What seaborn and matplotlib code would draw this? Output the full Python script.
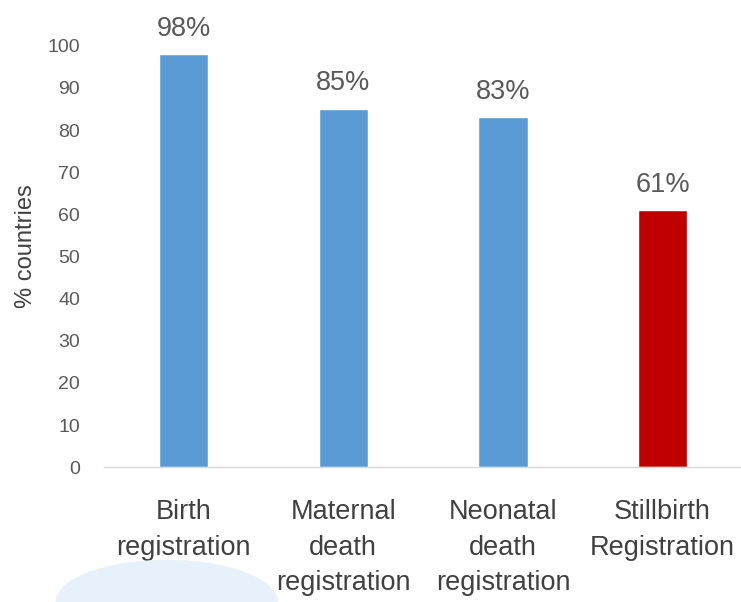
import matplotlib
matplotlib.use("Agg")
import matplotlib.pyplot as plt
from matplotlib.patches import Ellipse
import seaborn as sns
import pandas as pd

# Share of countries with each registration system in place
categories = ["Birth\nregistration", "Maternal\ndeath\nregistration",
              "Neonatal\ndeath\nregistration", "Stillbirth\nRegistration"]
percent_countries = [98, 85, 83, 61]
bar_colors = ["#5B9BD5", "#5B9BD5", "#5B9BD5", "#C00000"]
y_ticks = list(range(0, 101, 10))

df = pd.DataFrame({"category": categories, "pct": percent_countries})

sns.set_theme(style="white")
plt.rcParams["font.family"] = ["Liberation Sans", "DejaVu Sans"]

fig = plt.figure(figsize=(7.41, 6.02), dpi=100)
ax = fig.add_axes([0.140, 0.224, 0.862, 0.700])

# faint light-blue shape along the lower-left edge
fig.patches.append(Ellipse((0.225, 0.0), 0.30, 0.14, transform=fig.transFigure,
                           facecolor="#e6f1fb", edgecolor="none", zorder=0))

sns.barplot(data=df, x="category", y="pct", hue="category",
            palette=bar_colors, legend=False, width=0.31,
            saturation=1, ax=ax)

for patch, val in zip(ax.patches, percent_countries):
    ax.annotate(f"{val}%", (patch.get_x() + patch.get_width() / 2, val),
                xytext=(0, 9), textcoords="offset points",
                ha="center", va="bottom", fontsize=19.5, color="#595959")

ax.set_ylim(0, 100)
ax.set_xlim(-0.5, 3.5)
ax.set_yticks(y_ticks)
ax.tick_params(axis="y", length=0, pad=17, labelsize=14, labelcolor="#595959")
ax.tick_params(axis="x", length=0, pad=23, labelsize=19.5, labelcolor="#404040")
for lbl in ax.get_xticklabels():
    lbl.set_linespacing(1.48)
    lbl.set_va("top")

ax.set_xlabel("")
ax.set_ylabel("% countries", fontsize=17, color="#404040")
ax.yaxis.set_label_coords(-0.105, 0.525)

for side in ["top", "right", "left"]:
    ax.spines[side].set_visible(False)
ax.spines["bottom"].set_color("#D9D9D9")
ax.spines["bottom"].set_linewidth(1.0)
ax.patch.set_alpha(0)

fig.savefig("out.png", dpi=100)
